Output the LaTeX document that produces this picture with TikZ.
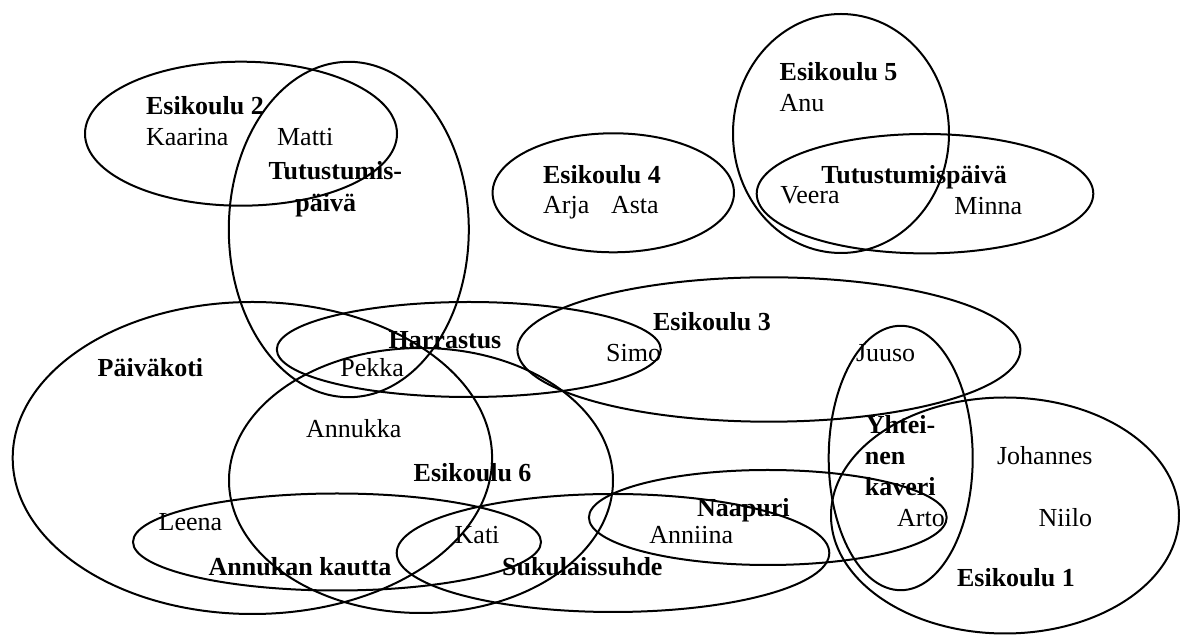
\documentclass[tikz,border=0pt]{standalone}
\usepackage{fontspec}
\setmainfont{Liberation Serif}
\begin{document}
\begin{tikzpicture}[x=0.5pt,y=-0.5pt,
  ring/.style={line width=1pt},
  grouplabel/.style={font=\bfseries\fontsize{13}{15}\selectfont, anchor=base west, inner sep=0pt},
  member/.style={font=\fontsize{13}{15}\selectfont, anchor=base west, inner sep=0pt}]
\useasboundingbox (0,0) rectangle (1180,635);

% groups
\draw[ring] (241,133.7)   ellipse [x radius=156,   y radius=72];    % Esikoulu 2
\draw[ring] (348.8,229.5) ellipse [x radius=120,   y radius=167.7]; % Tutustumispaiva (left)
\draw[ring] (613.3,192.8) ellipse [x radius=120.7, y radius=59.5];  % Esikoulu 4
\draw[ring] (841,133.5)   ellipse [x radius=108,   y radius=119.5]; % Esikoulu 5
\draw[ring] (925,193.7)   ellipse [x radius=168.3, y radius=59.7];  % Tutustumispaiva (right)
\draw[ring] (252.4,458)   ellipse [x radius=239.7, y radius=156];   % Paivakoti
\draw[ring] (468.8,349.5) ellipse [x radius=192,   y radius=47.5];  % Harrastus
\draw[ring] (768.9,349.5) ellipse [x radius=251.5, y radius=72.2];  % Esikoulu 3
\draw[ring] (421,480.5)   ellipse [x radius=192,   y radius=132.5]; % Esikoulu 6
\draw[ring] (900.7,458)   ellipse [x radius=72,    y radius=132.2]; % Yhteinen kaveri
\draw[ring] (1005,515.5)  ellipse [x radius=174,   y radius=118];   % Esikoulu 1
\draw[ring] (767.8,517.5) ellipse [x radius=178.9, y radius=47.5];  % Naapuri
\draw[ring] (337,542)     ellipse [x radius=204,   y radius=48.5];  % Annukan kautta
\draw[ring] (613,553)     ellipse [x radius=216.3, y radius=59];    % Sukulaissuhde

% group labels
\node[grouplabel] (e2)   at (145.7,115)   {Esikoulu 2};
\node[grouplabel] (tp1a) at (268.3,179.3) {Tutustumis-};
\node[grouplabel] (tp1b) at (295,211.7)   {päivä};
\node[grouplabel] (e4)   at (542.7,183.3) {Esikoulu 4};
\node[grouplabel] (e5)   at (779.3,81)    {Esikoulu 5};
\node[grouplabel] (tp2)  at (821,183.3)   {Tutustumispäivä};
\node[grouplabel] (pk)   at (97.3,376.3)  {Päiväkoti};
\node[grouplabel] (har)  at (388.3,348.7) {Harrastus};
\node[grouplabel] (e3)   at (652.7,330.5) {Esikoulu 3};
\node[grouplabel] (e6)   at (413.3,482)   {Esikoulu 6};
\node[grouplabel] (yk1)  at (865.5,434)   {Yhtei-};
\node[grouplabel] (yk2)  at (864.5,464.3) {nen};
\node[grouplabel] (yk3)  at (864.5,495.3) {kaveri};
\node[grouplabel] (naa)  at (696.7,516.3) {Naapuri};
\node[grouplabel] (ak)   at (208.3,575.3) {Annukan kautta};
\node[grouplabel] (suk)  at (501.7,575.3) {Sukulaissuhde};
\node[grouplabel] (e1)   at (956.7,587)   {Esikoulu 1};

% children
\node[member] (kaarina)  at (145.7,145.7) {Kaarina};
\node[member] (matti)    at (276.7,146)   {Matti};
\node[member] (arja)     at (542.7,213.8) {Arja};
\node[member] (asta)     at (610.7,213.8) {Asta};
\node[member] (anu)      at (779.3,111.7) {Anu};
\node[member] (veera)    at (780,204)     {Veera};
\node[member] (minna)    at (954,215)     {Minna};
\node[member] (pekka)    at (340,376.3)   {Pekka};
\node[member] (simo)     at (605.7,362)   {Simo};
\node[member] (juuso)    at (855.6,361.7) {Juuso};
\node[member] (annukka)  at (305.7,437.7) {Annukka};
\node[member] (johannes) at (996.7,464.7) {Johannes};
\node[member] (leena)    at (158.3,530.3) {Leena};
\node[member] (kati)     at (454.3,543.7) {Kati};
\node[member] (anniina)  at (649,543.7)   {Anniina};
\node[member] (arto)     at (896.7,527)   {Arto};
\node[member] (niilo)    at (1038.3,527)  {Niilo};
\end{tikzpicture}
\end{document}
